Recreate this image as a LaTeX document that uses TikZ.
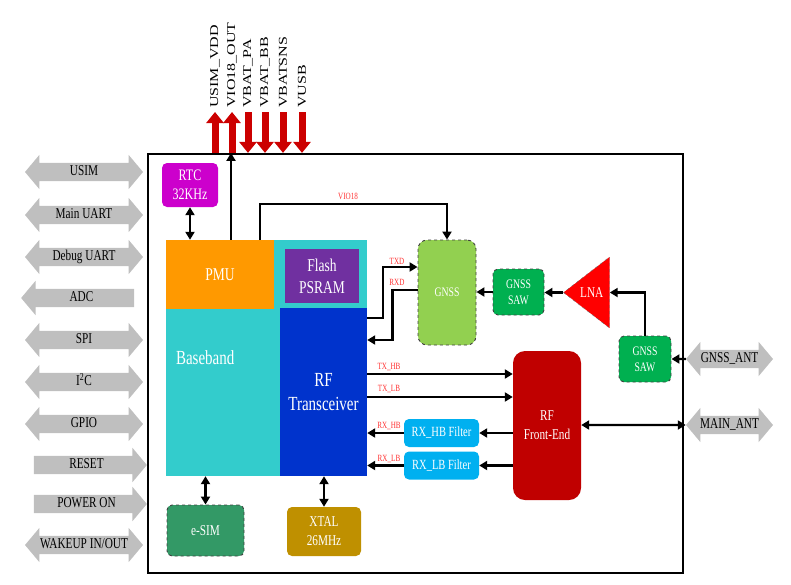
\documentclass[tikz,border=0pt]{standalone}
\usepackage{fontspec}
\setmainfont{Liberation Serif}[FakeStretch=0.75]
\newfontfamily\toplblfont{Liberation Serif}
\usepackage{graphicx}
\usetikzlibrary{shapes.arrows,shapes.geometric,arrows.meta}
\definecolor{arrgray}{HTML}{BFBFBF}
\definecolor{pinred}{HTML}{CC0000}
\definecolor{bbteal}{HTML}{33CCCC}
\definecolor{pmuorange}{HTML}{FF9900}
\definecolor{flashpurple}{HTML}{7030A0}
\definecolor{rfblue}{HTML}{0033CC}
\definecolor{rtcmag}{HTML}{CC00CC}
\definecolor{gnssgreen}{HTML}{92D050}
\definecolor{sawgreen}{HTML}{00B050}
\definecolor{lnared}{HTML}{FF0000}
\definecolor{rffered}{HTML}{C00000}
\definecolor{filterblue}{HTML}{00B0F0}
\definecolor{esimgreen}{HTML}{339966}
\definecolor{xtalgold}{HTML}{BF9000}
\definecolor{sigred}{HTML}{FF3333}
\newcommand\vlabel[1]{\scalebox{1}[0.75]{#1}}
\begin{document}
\begin{tikzpicture}[x=1pt,y=-1pt,
  >={Triangle[length=8pt,width=9pt]},
  conn/.style={line width=2.4pt},
  uparr/.style={draw=pinred, line width=7pt, -{Triangle[length=11pt,width=17pt]}},
  toplbl/.style={rotate=90, anchor=west, inner sep=0pt, font=\toplblfont\fontsize{16}{18}\selectfont},
  gio/.style={double arrow, fill=arrgray, minimum height=118pt, double arrow head extend=8pt, double arrow tip angle=100, inner ysep=2.5pt, inner xsep=1pt, text height=10pt, text depth=3pt, font=\fontsize{15}{18}\selectfont},
  gone/.style={single arrow, fill=arrgray, minimum height=113pt, single arrow head extend=8pt, single arrow tip angle=100, inner ysep=2.5pt, inner xsep=1pt, text height=10pt, text depth=3pt, font=\fontsize{15}{18}\selectfont},
  blk/.style={fill=#1, text=white, align=center, inner sep=0pt},
  rblk/.style={blk=#1, rounded corners=5pt},
  dblk/.style={rblk=#1, draw=black!75, dashed, line width=0.9pt},
  bigfont/.style={font=\fontsize{18}{22}\selectfont},
  hugefont/.style={font=\fontsize{20}{24}\selectfont},
  midfont/.style={font=\fontsize{15}{19}\selectfont},
  smallfont/.style={font=\fontsize{13}{16}\selectfont},
  sig/.style={text=sigred, inner sep=0pt, font=\fontsize{9.5}{11}\selectfont}]
\useasboundingbox (0,0) rectangle (791,584);
\node (board) at (415.5,363.5) [draw, line width=2.2pt, minimum width=535pt, minimum height=419pt] {};

\node (usim) at (84,172) [gio] {USIM};
\node (mainuart) at (84,215) [gio] {Main UART};
\node (dbguart) at (84,257) [gio] {Debug UART};
\node (adc) at (81.5,298) [gone, shape border rotate=180] {ADC};
\node (spi) at (84,340) [gio] {SPI};
\node (i2c) at (84,382) [gio] {I\textsuperscript{2}C};
\node (gpio) at (84,424) [gio] {GPIO};
\node (reset) at (86.5,465) [gone] {RESET};
\node (pwron) at (86.5,504) [gone] {POWER ON};
\node (wakeup) at (84,545) [gio] {WAKEUP IN/OUT};

\node (usimvdd) at (215,108) [toplbl] {\vlabel{USIM\_VDD}};
\node (vioout) at (232,108) [toplbl] {\vlabel{VIO18\_OUT}};
\node (vbatpa) at (248,108) [toplbl] {\vlabel{VBAT\_PA}};
\node (vbatbb) at (265,108) [toplbl] {\vlabel{VBAT\_BB}};
\node (vbatsns) at (283,108) [toplbl] {\vlabel{VBATSNS}};
\node (vusb) at (302,108) [toplbl] {\vlabel{VUSB}};
\draw[uparr] (usimvdd.west |- board.north) -- ([yshift=-4pt]usimvdd.west);
\draw[uparr] (vioout.west |- board.north) -- ([yshift=-4pt]vioout.west);
\draw[uparr] ([yshift=-4pt]vbatpa.west) -- (vbatpa.west |- board.north);
\draw[uparr] ([yshift=-4pt]vbatbb.west) -- (vbatbb.west |- board.north);
\draw[uparr] ([yshift=-4pt]vbatsns.west) -- (vbatsns.west |- board.north);
\draw[uparr] ([yshift=-4pt]vusb.west) -- (vusb.west |- board.north);

\node (bb) at (266.5,358) [blk=bbteal, minimum width=201pt, minimum height=236pt, text width=181pt, inner xsep=10pt, align=left, hugefont] {Baseband};
\node (pmu) at (220,274.5) [blk=pmuorange, minimum width=108pt, minimum height=69pt, bigfont] {PMU};
\node (flash) at (322,276) [blk=flashpurple, minimum width=74pt, minimum height=54pt, bigfont] {Flash\\PSRAM};
\node (rft) at (323.5,392) [blk=rfblue, minimum width=87pt, minimum height=168pt, hugefont] {RF\\Transceiver};
\node (rtc) at (190,185) [rblk=rtcmag, minimum width=56pt, minimum height=44pt, font=\fontsize{16}{19}\selectfont] {RTC\\32KHz};

\node (gnss) at (447,292.5) [dblk=gnssgreen, rounded corners=9pt, minimum width=58pt, minimum height=105pt, smallfont] {GNSS};
\node (saw1) at (518.5,292) [dblk=sawgreen, minimum width=51pt, minimum height=46pt, smallfont] {GNSS\\SAW};
\node (lna) at (563,292.5) [anchor=apex, isosceles triangle, shape border rotate=180, isosceles triangle stretches, minimum width=71pt, minimum height=46pt, fill=lnared, draw=black!60, dashed, text=white, inner sep=0pt, midfont] {LNA};
\node (saw2) at (645,359) [dblk=sawgreen, minimum width=52pt, minimum height=46pt, smallfont] {GNSS\\SAW};
\node (rffe) at (547,425.5) [rblk=rffered, rounded corners=12pt, minimum width=68pt, minimum height=149pt, midfont] {RF\\Front-End};
\node (rxhb) at (441.5,433) [rblk=filterblue, minimum width=75pt, minimum height=28pt, font=\fontsize{14}{16}\selectfont] {RX\_HB Filter};
\node (rxlb) at (441.5,465.5) [rblk=filterblue, minimum width=75pt, minimum height=28pt, font=\fontsize{14}{16}\selectfont] {RX\_LB Filter};
\node (esim) at (205.5,530.5) [dblk=esimgreen, minimum width=77pt, minimum height=51pt, midfont] {e-SIM};
\node (xtal) at (324,531.5) [rblk=xtalgold, minimum width=74pt, minimum height=49pt, midfont] {XTAL\\26MHz};
\node (gnssant) at (729.5,359) [gio, minimum height=87pt] {GNSS\_ANT};
\node (mainant) at (729.5,425) [gio, minimum height=87pt] {MAIN\_ANT};

\node (vio) at (348,196) [sig] {VIO18};
\node (txd) at (397,261) [sig] {TXD};
\node (rxd) at (397,282) [sig] {RXD};
\node (txhb) at (389,367) [sig] {TX\_HB};
\node (txlb) at (389,389) [sig] {TX\_LB};
\node (rxhbl) at (389,426) [sig] {RX\_HB};
\node (rxlbl) at (389,459) [sig] {RX\_LB};

\draw[conn,<->] (rtc.south) -- (rtc.south |- pmu.north);
\draw[conn,->] ([xshift=11pt]pmu.north) -- ([xshift=11pt]pmu.north |- board.north);
\draw[conn,->] ([xshift=40pt]pmu.north) -- ++(0,-36) -| (gnss.north);
\draw[conn,->] ([yshift=74pt]rft.east) -- ++(16,0) |- ([yshift=25.5pt]gnss.west);
\draw[conn,->] ([yshift=2.5pt]gnss.west) -- ++(-25,0) |- ([yshift=52pt]rft.east);
\draw[conn,->] ([yshift=18pt]rft.east) -- ([yshift=18pt]rft.east -| rffe.west);
\draw[conn,->] ([yshift=-5pt]rft.east) -- ([yshift=-5pt]rft.east -| rffe.west);
\draw[conn,->] (rffe.west |- rxhb) -- (rxhb.east);
\draw[conn,->] (rxhb.west) -- (rxhb.west -| rft.east);
\draw[conn,->] (rffe.west |- rxlb) -- (rxlb.east);
\draw[conn,->] (rxlb.west) -- (rxlb.west -| rft.east);
\draw[conn,<->] (rffe.east |- mainant) -- (mainant.west);
\draw[conn,->] (saw1.west) -- (saw1.west -| gnss.east);
\draw[conn,->] (lna.apex) -- (lna.apex -| saw1.east);
\draw[conn,->] (saw2.north) |- (lna.east);
\draw[conn,->] (gnssant.west) -- (saw2.east);
\draw[conn,<->] (esim.north) -- (esim.north |- bb.south);
\draw[conn,<->] (xtal.north) -- (xtal.north |- bb.south);
\end{tikzpicture}
\end{document}
